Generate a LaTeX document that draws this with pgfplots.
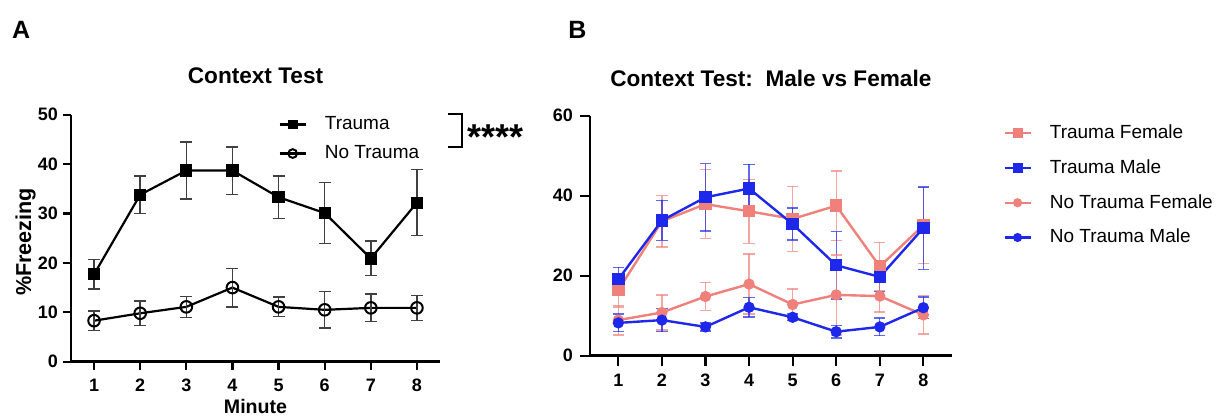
\documentclass[border=0pt]{standalone}
\usepackage{fontspec}
\setmainfont{Liberation Sans}
\usepackage{pgfplots}
\pgfplotsset{compat=1.18}
\definecolor{salmonF}{RGB}{240,128,122}
\definecolor{blueM}{RGB}{30,40,235}

\pgfplotstableread{
x  tr   trerr  nt   nterr
1  17.7 3.0    8.3  2.0
2  33.8 3.8    9.8  2.5
3  38.7 5.8    11.1 2.1
4  38.7 4.8    15.0 3.9
5  33.3 4.3    11.1 2.0
6  30.1 6.2    10.5 3.7
7  20.9 3.5    10.9 2.8
8  32.2 6.7    10.9 2.5
}\ctxA

\pgfplotstableread{
x  tf   tferr tm   tmerr ntf  ntferr ntm  ntmerr
1  16.4 4.2   19.1 3.0   8.9  3.7    8.2  2.2
2  33.6 6.4   33.8 5.0   10.8 4.4    8.9  2.9
3  37.9 8.6   39.6 8.4   14.8 3.5    7.2  1.0
4  36.1 8.0   41.8 6.0   17.9 7.5    12.1 2.4
5  34.2 8.1   32.9 4.0   12.8 3.9    9.6  0.8
6  37.5 8.7   22.6 8.4   15.2 10.0   6.0  1.6
7  22.3 6.0   19.7 3.7   14.9 4.0    7.2  2.2
8  32.6 9.5   31.9 10.3  10.2 4.8    12.0 2.7
}\ctxB

\pgfplotsset{
  prism/.style={
    scale only axis,
    axis lines*=left,
    axis line style={line width=1.3pt, -},
    tick style={line width=1.1pt, black},
    tick align=outside,
    tick pos=left,
    xtick={1,...,8},
    ticklabel style={font=\fontsize{9}{10}\selectfont\bfseries},
    /pgf/number format/assume math mode=true,
    title style={at={(axis description cs:0.5,1)}, anchor=base,
      font=\fontsize{11.3}{13}\selectfont\bfseries},
    clip=false,
    legend cell align=left,
    legend image code/.code={\draw[mark repeat=2,mark phase=2,#1,
      every mark/.append style={scale=0.75}]
      plot coordinates {(0cm,0cm) (0.23cm,0cm) (0.46cm,0cm)};},
  },
  errA/.style={error bars/.cd, y dir=both, y explicit,
    error bar style={line width=0.7pt, black!75},
    error mark options={rotate=90, line width=0.7pt, black!75, mark size=3pt}},
  errB/.style={error bars/.cd, y dir=both, y explicit,
    error bar style={line width=0.7pt, #1, opacity=0.7},
    error mark options={rotate=90, line width=0.7pt, #1, opacity=0.7, mark size=2.8pt}},
}

\begin{document}
\begin{tikzpicture}
\useasboundingbox (0,0) rectangle (609.5pt,208.5pt);

% panel A
\begin{axis}[prism,
  at={(35.5pt,27.65pt)},
  width=184.5pt, height=123.5pt,
  xmin=0.5, xmax=8.5, ymin=0, ymax=50,
  ytick={0,10,...,50},
  major tick length=4pt,
  xticklabel shift=1.3pt,
  yticklabel shift=-1pt,
  title={Context Test},
  title style={yshift=9.4pt},
  xlabel={Minute},
  xlabel style={at={(axis description cs:0.5,0)}, anchor=base, yshift=-25.8pt,
    font=\fontsize{9.8}{11}\selectfont\bfseries},
  ylabel={\%Freezing},
  ylabel style={at={(axis description cs:-0.108,0.485)}, anchor=base,
    font=\fontsize{10.8}{12}\selectfont\bfseries},
  legend style={draw=none, fill=none, at={(0.545,1.027)}, anchor=north west,
    font=\fontsize{9.5}{11}\selectfont, row sep=2.5pt,
    /tikz/every odd column/.append style={column sep=7pt}},
]
\addplot[black, line width=1.1pt, mark=square*, mark size=2.5pt, errA]
  table[x=x, y=tr, y error=trerr] {\ctxA};
\addlegendentry{Trauma}
\addplot[black, line width=1.1pt, mark=o, mark size=2.9pt,
  mark options={fill=white, line width=1pt}, errA]
  table[x=x, y=nt, y error=nterr] {\ctxA};
\addlegendentry{No Trauma}
\end{axis}

% significance bracket
\draw[line width=1.1pt] (224pt,151.35pt) -- (230.85pt,151.35pt) -- (230.85pt,135.15pt) -- (224pt,135.15pt);
\node[anchor=west, inner sep=0pt, font=\fontsize{18}{18}\selectfont\bfseries] at (233.5pt,140pt) {****};

% panel B
\begin{axis}[prism,
  at={(295pt,30.65pt)},
  width=180.85pt, height=120pt,
  xmin=0.35, xmax=8.65, ymin=0, ymax=60,
  ytick={0,20,40,60},
  major tick length=5pt,
  xticklabel shift=0.8pt,
  title={Context Test:\ \ Male vs Female},
  title style={yshift=8.5pt},
  legend style={draw=none, fill=none, at={(1.125,0.997)}, anchor=north west,
    font=\fontsize{9.5}{11}\selectfont, row sep=5pt,
    /tikz/every odd column/.append style={column sep=7pt}},
]
\addplot[salmonF, line width=1.2pt, mark=square*, mark size=2.5pt, errB=salmonF]
  table[x=x, y=tf, y error=tferr] {\ctxB};
\addlegendentry{Trauma Female}
\addplot[blueM, line width=1.2pt, mark=square*, mark size=2.5pt, errB=blueM]
  table[x=x, y=tm, y error=tmerr] {\ctxB};
\addlegendentry{Trauma Male}
\addplot[salmonF, line width=1.2pt, mark=*, mark size=2.2pt, errB=salmonF]
  table[x=x, y=ntf, y error=ntferr] {\ctxB};
\addlegendentry{No Trauma Female}
\addplot[blueM, line width=1.2pt, mark=*, mark size=2.2pt, errB=blueM]
  table[x=x, y=ntm, y error=ntmerr] {\ctxB};
\addlegendentry{No Trauma Male}
\end{axis}

% panel letters
\node[anchor=base west, inner sep=0pt, font=\fontsize{12.5}{14}\selectfont\bfseries] at (5.85pt,189.35pt) {A};
\node[anchor=base west, inner sep=0pt, font=\fontsize{12.5}{14}\selectfont\bfseries] at (284pt,189.35pt) {B};
\end{tikzpicture}
\end{document}
